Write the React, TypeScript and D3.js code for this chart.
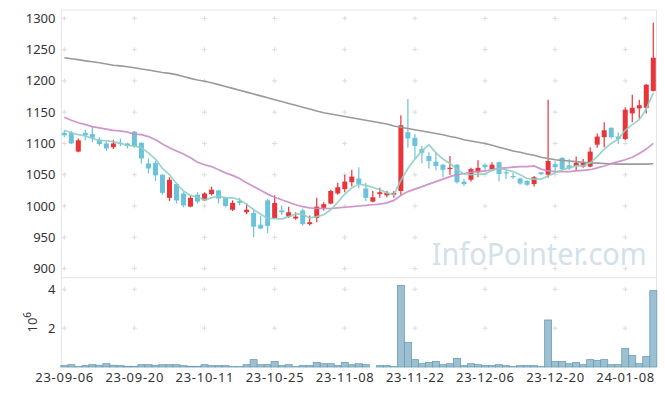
import React from "react";
import * as d3 from "d3";

const dates = [
  "23-09-06","23-09-07","23-09-08","23-09-11","23-09-12","23-09-13","23-09-14","23-09-15","23-09-18","23-09-19",
  "23-09-20","23-09-21","23-09-22","23-09-25","23-09-26","23-09-27","23-10-04","23-10-05","23-10-06","23-10-10",
  "23-10-11","23-10-12","23-10-13","23-10-16","23-10-17","23-10-18","23-10-19","23-10-20","23-10-23","23-10-24",
  "23-10-25","23-10-26","23-10-27","23-10-30","23-10-31","23-11-01","23-11-02","23-11-03","23-11-06","23-11-07",
  "23-11-08","23-11-09","23-11-10","23-11-13","23-11-14","23-11-15","23-11-16","23-11-17","23-11-20","23-11-21",
  "23-11-22","23-11-23","23-11-24","23-11-27","23-11-28","23-11-29","23-11-30","23-12-01","23-12-04","23-12-05",
  "23-12-06","23-12-07","23-12-08","23-12-11","23-12-12","23-12-13","23-12-14","23-12-15","23-12-18","23-12-19",
  "23-12-20","23-12-21","23-12-22","23-12-26","23-12-27","23-12-28","24-01-02","24-01-03","24-01-04","24-01-05",
  "24-01-08","24-01-09","24-01-10","24-01-11","24-01-12",
];

const open = [
  1117,1117,1087,1117,1115,1106,1100,1094,1101,1100,
  1119,1101,1068,1069,1050,1013,1035,1020,999,1018,
  1009,1019,1025,1013,994,1008,990,989,970,1009,
  980,993,983,980,993,971,981,997,1004,1020,
  1027,1038,1044,1028,1007,1019,1017,1018,1024,1118,
  1109,1091,1080,1071,1066,1060,1066,1039,1042,1054,
  1066,1059,1070,1054,1048,1044,1040,1035,1054,1050,
  1067,1077,1065,1064,1063,1063,1098,1110,1125,1111,
  1107,1148,1156,1157,1184,
];
const high = [
  1121,1120,1108,1122,1128,1110,1102,1106,1108,1101,
  1120,1102,1076,1072,1051,1046,1036,1022,1017,1022,
  1022,1031,1026,1015,1009,1013,1004,996,985,1011,
  1017,1001,999,990,996,985,1013,1006,1026,1037,
  1050,1058,1062,1037,1024,1029,1024,1024,1145,1171,
  1115,1096,1086,1086,1067,1080,1067,1043,1061,1073,
  1068,1070,1071,1059,1053,1045,1041,1048,1054,1170,
  1072,1078,1075,1079,1075,1094,1116,1134,1126,1118,
  1158,1178,1170,1195,1293,
];
const low = [
  1110,1099,1086,1105,1102,1096,1088,1091,1096,1092,
  1093,1068,1052,1040,1018,1008,1004,998,998,1004,
  1008,1017,1004,998,992,1001,987,950,963,957,
  979,986,981,978,969,969,974,993,1003,1018,
  1022,1031,1028,1008,1006,1013,1014,1013,1017,1093,
  1075,1068,1060,1057,1046,1050,1036,1032,1039,1046,
  1056,1056,1039,1043,1043,1034,1032,1031,1049,1045,
  1054,1057,1058,1057,1061,1062,1093,1094,1108,1099,
  1105,1134,1139,1148,1183,
];
const close = [
  1113,1100,1105,1113,1109,1099,1092,1100,1099,1096,
  1095,1076,1060,1049,1021,1042,1009,1001,1013,1007,
  1020,1026,1012,1000,1005,1005,994,967,964,968,
  1005,990,990,983,971,974,999,1003,1024,1030,
  1039,1047,1035,1013,1014,1022,1021,1021,1129,1108,
  1096,1085,1072,1064,1058,1061,1038,1035,1059,1061,
  1062,1066,1051,1052,1046,1036,1034,1046,1051,1072,
  1062,1059,1060,1069,1069,1087,1111,1121,1110,1107,
  1154,1157,1161,1194,1237,
];
// volume, millions of shares
const volume = [
  0.07,0.12,0.02,0.07,0.12,0.09,0.17,0.09,0.07,0.035,
  0.035,0.12,0.12,0.09,0.12,0.12,0.12,0.07,0.035,0.035,
  0.12,0.07,0.07,0.07,0.02,0.02,0.12,0.38,0.12,0.12,
  0.28,0.07,0.12,0.02,0.07,0.07,0.23,0.17,0.17,0.07,
  0.23,0.12,0.17,0.12,0,0.07,0.07,0.02,4.2,1.27,
  0.38,0.17,0.23,0.28,0.12,0.17,0.44,0.07,0.17,0.12,
  0.07,0.07,0.12,0.07,0.02,0.07,0.07,0.07,0.02,2.42,
  0.28,0.28,0.17,0.23,0.12,0.38,0.33,0.38,0.12,0.12,
  0.96,0.59,0.17,0.54,3.93,
];
const ma5 = [
  1121,1117,1114,1112,1108,1105,1104,1103,1100,1097,
  1096,1093,1085,1075,1060,1050,1036,1024,1017,1014,
  1010,1013,1016,1013,1013,1010,1003,994,987,980,
  980,979,983,987,987,981,983,986,994,1006,
  1019,1029,1035,1033,1030,1026,1021,1018,1041,1060,
  1075,1088,1098,1085,1075,1068,1059,1051,1050,1051,
  1051,1057,1060,1058,1055,1050,1044,1043,1043,1048,
  1053,1058,1061,1064,1064,1069,1079,1091,1100,1107,
  1121,1130,1138,1155,1181,
];
const ma20 = [
  1142,1137,1133,1130,1127,1125,1123,1121,1120,1118,
  1115,1114,1111,1106,1099,1093,1088,1083,1077,1070,
  1066,1063,1058,1053,1049,1044,1037,1031,1025,1019,
  1014,1010,1006,1002,999,997,996,996,996,997,
  998,999,1000,1001,1002,1003,1005,1009,1017,1023,
  1027,1031,1035,1039,1043,1047,1050,1052,1054,1055,
  1056,1058,1060,1061,1062,1063,1063,1064,1059,1056,
  1055,1055,1055,1056,1057,1058,1061,1064,1068,1071,
  1074,1078,1084,1091,1100,
];
const ma120 = [
  1237,1235.5,1234,1232,1230.5,1229,1227,1225,1224,1222.5,
  1221,1219,1217.5,1215.5,1213.5,1212,1210,1207,1204,1201.5,
  1199.5,1197,1194,1191,1188,1185,1182,1179,1176,1173,
  1170,1167,1164,1161,1158,1155,1152,1149,1147,1145,
  1143,1141,1139,1137,1135,1133,1131,1128,1126,1124,
  1122,1120,1118,1116,1114,1111,1109,1106,1104,1102,
  1100,1097,1094,1091,1088,1086,1083,1081,1078,1076,
  1074,1073,1072,1071,1070,1069,1068.5,1068,1067.5,1067,
  1067,1067,1067,1067,1067.5,
];
const priceTicks = [900, 950, 1000, 1050, 1100, 1150, 1200, 1250, 1300];
const volumeTicks = [2, 4];
const labelStep = 10;
const watermark = "InfoPointer.com";

const UP = "#e8353a";
const DOWN = "#6cc2da";

export default function App() {
  const W = 665, H = 396;
  const L = 61.3, R = 656.5, TOP = 10, MID = 277.7, BOT = 367;
  const n = dates.length;
  const x = d3.scaleLinear().domain([0, n - 1]).range([64.3, 653.3]);
  const y = d3.scaleLinear().domain([885.4, 1313.3]).range([MID, TOP]);
  const yv = d3.scaleLinear().domain([0, 4.6]).range([BOT, BOT - 4.6 * 19.43]);
  const step = x(1) - x(0);
  const tickIdx = d3.range(0, n, labelStep);
  const line = d3.line<number>().x((_, i) => x(i)).y((d) => y(d));
  const font = "'Noto Sans', 'Liberation Sans', sans-serif";
  const grid = "#dcdcdc";

  const cross = (cx: number, cy: number, k: string) => (
    <g key={k} stroke={grid} strokeWidth={1}>
      <line x1={cx - 2.5} x2={cx + 2.5} y1={cy} y2={cy} />
      <line x1={cx} x2={cx} y1={cy - 2.5} y2={cy + 2.5} />
    </g>
  );

  return (
    <svg width={W} height={H} style={{ position: "absolute", left: 0, top: 0, background: "#fff" }} fontFamily={font}>
      <rect x={0} y={0} width={W} height={H} fill="#fff" />
      {/* watermark */}
      <text x={431.7} y={265} fontSize={30} fill="#d2e1ea" textLength={215} lengthAdjust="spacingAndGlyphs">{watermark}</text>
      {/* frame */}
      <g stroke="#e4e4e4" strokeWidth={1} fill="none">
        <line x1={L} x2={R} y1={TOP} y2={TOP} />
        <line x1={L} x2={R} y1={MID} y2={MID} />
        <line x1={R} x2={R} y1={TOP} y2={BOT} />
        <line x1={L} x2={L} y1={TOP} y2={BOT} />
      </g>
      {/* grid crosses */}
      {tickIdx.map((i) => priceTicks.map((t) => cross(x(i), y(t), `p${i}-${t}`)))}
      {tickIdx.map((i) => volumeTicks.map((t) => cross(x(i), yv(t), `v${i}-${t}`)))}
      {/* y tick labels */}
      <g fontSize={13} fill="#333" textAnchor="end">
        {priceTicks.map((t) => (
          <text key={t} x={55.5} y={y(t)} dy="0.35em">{t}</text>
        ))}
        {volumeTicks.map((t) => (
          <text key={`v${t}`} x={55.5} y={yv(t)} dy="0.35em">{t}</text>
        ))}
      </g>
      <text transform="translate(36.5,332.5) rotate(-90)" fontSize={13} fill="#333">
        10<tspan dy={-5.5} fontSize={10}>6</tspan>
      </text>
      {/* x labels */}
      <g fontSize={13} fill="#333" textAnchor="middle">
        {tickIdx.map((i) => (
          <text key={i} x={x(i)} y={381.7} textLength={58} lengthAdjust="spacing">{dates[i]}</text>
        ))}
      </g>
      {/* volume bars */}
      <g fill="#9cc0d1" stroke="#6b9db5" strokeWidth={0.8}>
        {volume.map((v, i) =>
          v > 0 ? (
            <rect key={i} x={x(i) - step / 2} width={step} y={yv(v)} height={Math.max(0, yv(0) - yv(v))} />
          ) : null
        )}
      </g>
      {/* candles */}
      {dates.map((d, i) => {
        const up = close[i] >= open[i];
        const c = up ? UP : DOWN;
        const top = y(Math.max(open[i], close[i]));
        const bot = y(Math.min(open[i], close[i]));
        return (
          <g key={d}>
            <line x1={x(i)} x2={x(i)} y1={y(high[i])} y2={y(low[i])} stroke={c} strokeWidth={1.2} />
            <rect x={x(i) - 2.5} width={5} y={top} height={Math.max(1.2, bot - top)} fill={c} />
          </g>
        );
      })}
      {/* moving averages */}
      <path d={line(ma120) || ""} fill="none" stroke="#9a9a9a" strokeWidth={1.6} />
      <path d={line(ma20) || ""} fill="none" stroke="#c98bc8" strokeWidth={1.7} opacity={0.9} />
      <path d={line(ma5) || ""} fill="none" stroke="#8fcfc3" strokeWidth={1.7} opacity={0.9} />
    </svg>
  );
}
